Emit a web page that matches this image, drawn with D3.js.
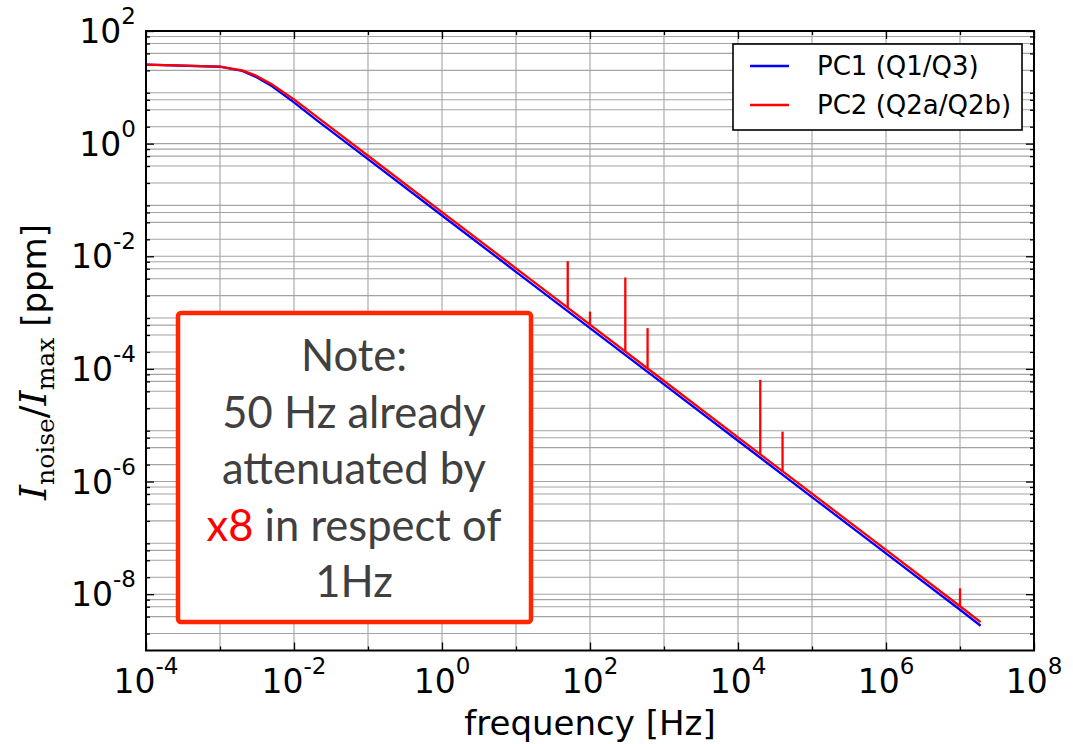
<!DOCTYPE html>
<html>
<head>
<meta charset="utf-8">
<script src="https://cdn.jsdelivr.net/npm/d3@7"></script>
<style>
  body { margin: 0; background: #fff; }
  svg { display: block; }
</style>
</head>
<body>
<div id="chart-area"></div>
<script>
// values
const freqs = [1e-4, 1e-3, 2e-3, 3e-3, 5e-3, 1e-2, 2e-2, 1e-1, 1, 10, 100, 1e3, 1e4, 1e5, 1e6, 1e7, 1.9e7]
const pc1 = [25.2, 23.2, 19.5, 15.5, 10.5, 5.4, 2.65, 0.53, 0.053, 5.3e-3, 5.3e-4, 5.3e-5, 5.3e-6, 5.3e-7, 5.3e-8, 5.3e-9, 2.75e-9]
const pc2 = [25.2, 23.4, 20.0, 16.3, 11.3, 6.1, 3.05, 0.61, 0.061, 6.1e-3, 6.1e-4, 6.1e-5, 6.1e-6, 6.1e-7, 6.1e-8, 6.1e-9, 3.2e-9]

// PC2 line pickup spikes
const spikeFreqs = [50, 100, 300, 600, 2e4, 4e4, 1e7]
const spikeBase = [1.22e-3, 6.1e-4, 2.03e-4, 1.02e-4, 3.05e-6, 1.53e-6, 6.1e-9]
const spikeTop = [8.2e-3, 1.04e-3, 4.2e-3, 5.3e-4, 6.4e-5, 7.7e-6, 1.27e-8]

const xTickExps = [-4, -2, 0, 2, 4, 6, 8]
const yTickExps = [2, 0, -2, -4, -6, -8]
const seriesNames = ['PC1 (Q1/Q3)', 'PC2 (Q2a/Q2b)']
const seriesColors = ['#0000ff', '#ff0000']
const noteLines = [['Note:'], ['50 Hz already'], ['attenuated by'], ['x8', ' in respect of'], ['1Hz']]

/* Canvas */
const CANVAS_WIDTH = 1073
const CANVAS_HEIGHT = 744
const plot = { left: 146, right: 1034, top: 31, bottom: 650.5 }

const $svg = d3.select('#chart-area')
  .append('svg')
  .attr('width', CANVAS_WIDTH)
  .attr('height', CANVAS_HEIGHT)

const x = d3.scaleLog().domain([1e-4, 1e8]).range([plot.left, plot.right])
const y = d3.scaleLog().domain([1e-9, 1e2]).range([plot.bottom, plot.top])

/* Grid */
const xGrid = d3.range(-4, 9).map(e => Math.pow(10, e))
const yGrid = []
d3.range(-9, 3).forEach(e => {
  if (e % 2 === 0) yGrid.push(Math.pow(10, e))
  if (e < 2) [2, 4, 6, 8].forEach(k => yGrid.push(k * Math.pow(10, e)))
})

const $grid = $svg.append('g').attr('stroke', '#a3a3a3').attr('stroke-width', 1.1)
$grid.selectAll('.gx').data(xGrid).enter().append('line')
  .attr('x1', d => x(d)).attr('x2', d => x(d))
  .attr('y1', plot.top).attr('y2', plot.bottom)
$grid.selectAll('.gy').data(yGrid).enter().append('line')
  .attr('x1', plot.left).attr('x2', plot.right)
  .attr('y1', d => y(d)).attr('y2', d => y(d))

/* Lines */
const line = d3.line().x(d => x(d[0])).y(d => y(d[1]))
const series = [pc1, pc2].map(vals => freqs.map((f, i) => [f, vals[i]]))

$svg.selectAll('.series').data(series).enter().append('path')
  .attr('fill', 'none')
  .attr('stroke', (d, i) => seriesColors[i])
  .attr('stroke-width', 2.3)
  .attr('d', line)

$svg.selectAll('.spike').data(spikeFreqs).enter().append('line')
  .attr('stroke', seriesColors[1])
  .attr('stroke-width', 2.3)
  .attr('x1', d => x(d)).attr('x2', d => x(d))
  .attr('y1', (d, i) => y(spikeBase[i]))
  .attr('y2', (d, i) => y(spikeTop[i]))

/* Axes */
const xMinor = xGrid.filter((d, i) => i % 2 === 1)
const yMinor = yGrid.filter(d => Math.abs(Math.log10(d) - Math.round(Math.log10(d))) > 1e-6)
const yMajor = yTickExps.map(e => Math.pow(10, e))
const xMajor = xTickExps.map(e => Math.pow(10, e))

const axisStyle = g => {
  g.select('.domain').remove()
  g.selectAll('.tick line').attr('stroke', '#000').attr('stroke-width', 1.3)
}

$svg.append('g').attr('transform', `translate(0,${plot.bottom})`)
  .call(d3.axisBottom(x).tickValues(xMajor).tickSize(-8).tickFormat('')).call(axisStyle)
$svg.append('g').attr('transform', `translate(0,${plot.bottom})`)
  .call(d3.axisBottom(x).tickValues(xMinor).tickSize(-4).tickFormat('')).call(axisStyle)
$svg.append('g').attr('transform', `translate(0,${plot.top})`)
  .call(d3.axisTop(x).tickValues(xMajor).tickSize(-8).tickFormat('')).call(axisStyle)
$svg.append('g').attr('transform', `translate(0,${plot.top})`)
  .call(d3.axisTop(x).tickValues(xMinor).tickSize(-4).tickFormat('')).call(axisStyle)
$svg.append('g').attr('transform', `translate(${plot.left},0)`)
  .call(d3.axisLeft(y).tickValues(yMajor).tickSize(-8).tickFormat('')).call(axisStyle)
$svg.append('g').attr('transform', `translate(${plot.left},0)`)
  .call(d3.axisLeft(y).tickValues(yMinor).tickSize(-4).tickFormat('')).call(axisStyle)
$svg.append('g').attr('transform', `translate(${plot.right},0)`)
  .call(d3.axisRight(y).tickValues(yMajor).tickSize(-8).tickFormat('')).call(axisStyle)
$svg.append('g').attr('transform', `translate(${plot.right},0)`)
  .call(d3.axisRight(y).tickValues(yMinor).tickSize(-4).tickFormat('')).call(axisStyle)

// frame
$svg.append('rect')
  .attr('x', plot.left).attr('y', plot.top)
  .attr('width', plot.right - plot.left).attr('height', plot.bottom - plot.top)
  .attr('fill', 'none').attr('stroke', '#000').attr('stroke-width', 2)

// tick labels 10^n
const FONT = '"DejaVu Sans", sans-serif'
const powerLabel = (sel, e) => {
  sel.append('tspan').text('10')
  sel.append('tspan').attr('font-size', 23).attr('dy', -19).text(e)
}

xTickExps.forEach(e => {
  $svg.append('text')
    .attr('x', x(Math.pow(10, e)))
    .attr('y', 692.5)
    .attr('text-anchor', 'middle')
    .attr('font-family', FONT)
    .attr('font-size', 33)
    .call(powerLabel, e)
})

yTickExps.forEach(e => {
  $svg.append('text')
    .attr('x', 136)
    .attr('y', y(Math.pow(10, e)) + 12)
    .attr('text-anchor', 'end')
    .attr('font-family', FONT)
    .attr('font-size', 33)
    .call(powerLabel, e)
})

/* Axis labels */
$svg.append('text')
  .attr('x', 590)
  .attr('y', 735)
  .attr('text-anchor', 'middle')
  .attr('font-family', FONT)
  .attr('font-size', 34)
  .text('frequency [Hz]')

const $yLabel = $svg.append('text')
  .attr('transform', 'translate(46,362) rotate(-90)')
  .attr('text-anchor', 'middle')
  .attr('font-size', 38)
const SERIF = '"DejaVu Serif", "Liberation Serif", serif'
$yLabel.append('tspan').attr('font-family', SERIF).attr('font-style', 'italic').text('I')
$yLabel.append('tspan').attr('font-family', SERIF).attr('font-size', 25).attr('dy', 8).text('noise')
$yLabel.append('tspan').attr('font-family', SERIF).attr('dy', -8).text('/')
$yLabel.append('tspan').attr('font-family', SERIF).attr('font-style', 'italic').text('I')
$yLabel.append('tspan').attr('font-family', SERIF).attr('font-size', 25).attr('dy', 8).text('max')
$yLabel.append('tspan').attr('font-family', FONT).attr('font-size', 34).attr('dy', -8).text('\u00a0[ppm]')

/* Legend */
const $legend = $svg.append('g')
$legend.append('rect')
  .attr('x', 733).attr('y', 44).attr('width', 289).attr('height', 86)
  .attr('fill', '#fff').attr('stroke', '#000').attr('stroke-width', 1.6)

seriesNames.forEach((name, i) => {
  const ly = 66 + i * 39
  $legend.append('line')
    .attr('x1', 750).attr('x2', 789).attr('y1', ly).attr('y2', ly)
    .attr('stroke', seriesColors[i]).attr('stroke-width', 2.3)
  $legend.append('text')
    .attr('x', 817).attr('y', ly + 9)
    .attr('font-family', FONT).attr('font-size', 26)
    .text(name)
})

/* Note box */
$svg.append('rect')
  .attr('x', 178).attr('y', 313).attr('width', 353).attr('height', 309)
  .attr('rx', 3)
  .attr('fill', '#fff').attr('stroke', '#ff2600').attr('stroke-width', 4.5)

noteLines.forEach((parts, i) => {
  const $t = $svg.append('text')
    .attr('x', 354).attr('y', 371 + i * 56.5)
    .attr('text-anchor', 'middle')
    .attr('font-family', 'Lato, "Open Sans", sans-serif')
    .attr('font-size', 43.5)
    .attr('fill', '#404040')
  parts.forEach((p, j) => {
    $t.append('tspan')
      .attr('fill', parts.length > 1 && j === 0 ? '#ff0000' : '#404040')
      .text(p)
  })
})
</script>
</body>
</html>
